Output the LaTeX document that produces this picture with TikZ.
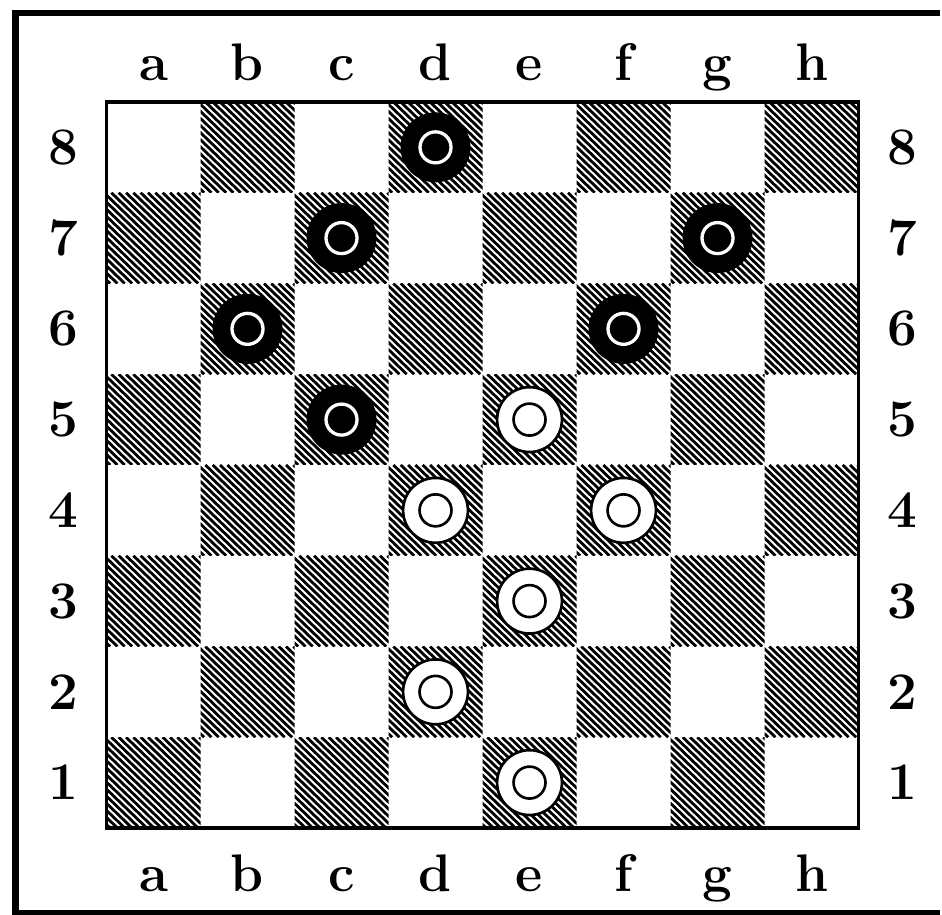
\documentclass[tikz,border=0pt]{standalone}
\usepackage{tikz}
\usetikzlibrary{positioning}

\begin{document}
\begin{tikzpicture}[x=1cm, y=0.9654cm,
  every node/.style={font=\fontsize{16}{18}\selectfont\bfseries},
  hatchline/.style={line width=0.85pt},
  frameline/.style={line width=2pt},
  wman/.style={draw, circle, line width=0.8pt, fill=white, minimum size=0.69cm, inner sep=0pt,
    path picture={\draw[line width=0.8pt] (path picture bounding box.center) circle[radius=0.17cm];}},
  bman/.style={draw, circle, fill=black, minimum size=0.73cm, inner sep=0pt,
    path picture={\draw[white, line width=1pt] (path picture bounding box.center) circle[radius=0.165cm];}},
]
\useasboundingbox (-1.133,-0.948) rectangle (8.888,9.124);

% Outer frame (open at the right, cut by the page)
\draw[frameline] (8.87,8.981) -- (-0.968,8.981) -- (-0.968,-0.937) -- (8.87,-0.937);

% Dark squares (hatched)
\foreach \i in {0,...,7}
  \foreach \j in {0,...,7} {
    \pgfmathtruncatemacro\dark{mod(\i+\j,2)}
    \ifnum\dark=0
      \begin{scope}
        \clip (\i,\j) rectangle ++(1,1);
        \foreach \t in {-1.04,-0.962,...,1.05}
          \draw[hatchline] (\i+\t,\j+1) -- ++(1,-1);
      \end{scope}
    \fi
  }

% Board edge
\draw[line width=1.1pt] (0,0) rectangle (8,8);

% Files and ranks
\foreach \c [count=\n from 0] in {a,b,c,d,e,f,g,h} {
  \node[anchor=base] (top-\c) at (\n+0.5,8.24) {\c};
  \node[anchor=base] (bot-\c) at (\n+0.5,-0.705) {\c};
}
\foreach \r in {1,...,8} {
  \node (left-\r) at (-0.463,\r-0.5) {\r};
  \node (right-\r) at (8.463,\r-0.5) {\r};
}

% Black men
\foreach \sq/\c/\r in {d8/3/8, c7/2/7, g7/6/7, b6/1/6, f6/5/6, c5/2/5}
  \node[bman] (\sq) at (\c+0.5,\r-0.5) {};

% White men
\foreach \sq/\c/\r in {e5/4/5, d4/3/4, f4/5/4, e3/4/3, d2/3/2, e1/4/1}
  \node[wman] (\sq) at (\c+0.5,\r-0.5) {};
\end{tikzpicture}
\end{document}
